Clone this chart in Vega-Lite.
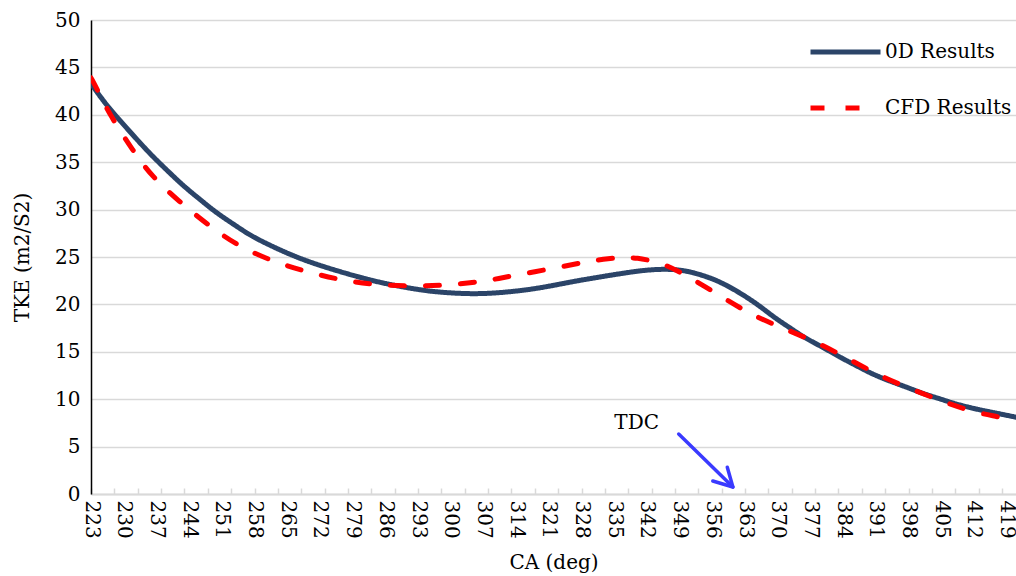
{
  "$schema": "https://vega.github.io/schema/vega-lite/v6.json",
  "width": 925,
  "height": 474,
  "autosize": "none",
  "padding": {"left": 91, "top": 20, "right": 0, "bottom": 82},
  "background": "white",
  "config": {
    "view": {"stroke": null},
    "font": "DejaVu Serif",
    "axis": {"labelFont": "DejaVu Serif", "titleFont": "DejaVu Serif", "labelColor": "#000000", "titleColor": "#000000", "labelFontSize": 20, "titleFontSize": 20, "titleFontWeight": "normal"},
    "legend": {"labelFont": "DejaVu Serif", "labelFontSize": 20, "labelColor": "#000000"}
  },
  "datasets": {
    "tke": [
      {"ca": 223, "tke": 43.3, "series": "0D Results"},
      {"ca": 226, "tke": 41.2, "series": "0D Results"},
      {"ca": 229, "tke": 39.5, "series": "0D Results"},
      {"ca": 233, "tke": 37.3, "series": "0D Results"},
      {"ca": 236, "tke": 35.7, "series": "0D Results"},
      {"ca": 240, "tke": 33.8, "series": "0D Results"},
      {"ca": 243, "tke": 32.4, "series": "0D Results"},
      {"ca": 247, "tke": 30.8, "series": "0D Results"},
      {"ca": 250, "tke": 29.6, "series": "0D Results"},
      {"ca": 254, "tke": 28.3, "series": "0D Results"},
      {"ca": 257, "tke": 27.3, "series": "0D Results"},
      {"ca": 261, "tke": 26.3, "series": "0D Results"},
      {"ca": 265, "tke": 25.4, "series": "0D Results"},
      {"ca": 268, "tke": 24.8, "series": "0D Results"},
      {"ca": 272, "tke": 24.1, "series": "0D Results"},
      {"ca": 278, "tke": 23.2, "series": "0D Results"},
      {"ca": 284, "tke": 22.4, "series": "0D Results"},
      {"ca": 289, "tke": 21.9, "series": "0D Results"},
      {"ca": 295, "tke": 21.4, "series": "0D Results"},
      {"ca": 300, "tke": 21.2, "series": "0D Results"},
      {"ca": 305, "tke": 21.1, "series": "0D Results"},
      {"ca": 310, "tke": 21.2, "series": "0D Results"},
      {"ca": 316, "tke": 21.5, "series": "0D Results"},
      {"ca": 321, "tke": 21.9, "series": "0D Results"},
      {"ca": 326, "tke": 22.4, "series": "0D Results"},
      {"ca": 332, "tke": 22.9, "series": "0D Results"},
      {"ca": 337, "tke": 23.3, "series": "0D Results"},
      {"ca": 342, "tke": 23.65, "series": "0D Results"},
      {"ca": 347, "tke": 23.75, "series": "0D Results"},
      {"ca": 351, "tke": 23.5, "series": "0D Results"},
      {"ca": 355, "tke": 22.9, "series": "0D Results"},
      {"ca": 358, "tke": 22.3, "series": "0D Results"},
      {"ca": 362, "tke": 21.2, "series": "0D Results"},
      {"ca": 366, "tke": 19.9, "series": "0D Results"},
      {"ca": 369, "tke": 18.7, "series": "0D Results"},
      {"ca": 373, "tke": 17.4, "series": "0D Results"},
      {"ca": 376, "tke": 16.4, "series": "0D Results"},
      {"ca": 380, "tke": 15.4, "series": "0D Results"},
      {"ca": 383, "tke": 14.5, "series": "0D Results"},
      {"ca": 387, "tke": 13.5, "series": "0D Results"},
      {"ca": 390, "tke": 12.7, "series": "0D Results"},
      {"ca": 394, "tke": 11.9, "series": "0D Results"},
      {"ca": 398, "tke": 11.2, "series": "0D Results"},
      {"ca": 401, "tke": 10.6, "series": "0D Results"},
      {"ca": 405, "tke": 10.0, "series": "0D Results"},
      {"ca": 408, "tke": 9.5, "series": "0D Results"},
      {"ca": 412, "tke": 9.0, "series": "0D Results"},
      {"ca": 416, "tke": 8.6, "series": "0D Results"},
      {"ca": 421, "tke": 8.1, "series": "0D Results"},
      {"ca": 223, "tke": 43.9, "series": "CFD Results"},
      {"ca": 224, "tke": 43.0, "series": "CFD Results"},
      {"ca": 227, "tke": 40.0, "series": "CFD Results"},
      {"ca": 232, "tke": 36.2, "series": "CFD Results"},
      {"ca": 236, "tke": 33.5, "series": "CFD Results"},
      {"ca": 242, "tke": 30.8, "series": "CFD Results"},
      {"ca": 248, "tke": 28.4, "series": "CFD Results"},
      {"ca": 254, "tke": 26.3, "series": "CFD Results"},
      {"ca": 261, "tke": 24.7, "series": "CFD Results"},
      {"ca": 268, "tke": 23.6, "series": "CFD Results"},
      {"ca": 276, "tke": 22.6, "series": "CFD Results"},
      {"ca": 283, "tke": 22.1, "series": "CFD Results"},
      {"ca": 291, "tke": 21.9, "series": "CFD Results"},
      {"ca": 299, "tke": 22.0, "series": "CFD Results"},
      {"ca": 307, "tke": 22.4, "series": "CFD Results"},
      {"ca": 314, "tke": 23.1, "series": "CFD Results"},
      {"ca": 322, "tke": 23.8, "series": "CFD Results"},
      {"ca": 329, "tke": 24.5, "series": "CFD Results"},
      {"ca": 334, "tke": 24.85, "series": "CFD Results"},
      {"ca": 337, "tke": 24.95, "series": "CFD Results"},
      {"ca": 340, "tke": 24.9, "series": "CFD Results"},
      {"ca": 343, "tke": 24.6, "series": "CFD Results"},
      {"ca": 346, "tke": 24.2, "series": "CFD Results"},
      {"ca": 351, "tke": 22.9, "series": "CFD Results"},
      {"ca": 358, "tke": 20.8, "series": "CFD Results"},
      {"ca": 364, "tke": 19.0, "series": "CFD Results"},
      {"ca": 371, "tke": 17.5, "series": "CFD Results"},
      {"ca": 378, "tke": 16.1, "series": "CFD Results"},
      {"ca": 385, "tke": 14.3, "series": "CFD Results"},
      {"ca": 392, "tke": 12.4, "series": "CFD Results"},
      {"ca": 399, "tke": 11.0, "series": "CFD Results"},
      {"ca": 406, "tke": 9.6, "series": "CFD Results"},
      {"ca": 413, "tke": 8.5, "series": "CFD Results"},
      {"ca": 418, "tke": 8.1, "series": "CFD Results"},
      {"ca": 421, "tke": 7.6, "series": "CFD Results"}
    ],
    "arrow": [
      {"ca": 348.8, "tke": 6.33, "part": "shaft", "order": 1},
      {"ca": 360.4, "tke": 0.74, "part": "shaft", "order": 2},
      {"ca": 356.1, "tke": 1.37, "part": "head", "order": 1},
      {"ca": 360.4, "tke": 0.74, "part": "head", "order": 2},
      {"ca": 359.2, "tke": 2.82, "part": "head", "order": 3}
    ],
    "notes": [
      {"ca": 339.8, "tke": 7.5, "label": "TDC"}
    ]
  },
  "resolve": {"axis": {"x": "independent"}},
  "layer": [
    {
      "data": {"name": "tke"},
      "mark": {"type": "line", "interpolate": "basis", "strokeWidth": 5, "strokeCap": "round", "clip": true},
      "encoding": {
        "x": {
          "field": "ca", "type": "quantitative",
          "scale": {"domain": [223, 421], "zero": false, "nice": false},
          "axis": {
            "orient": "bottom",
            "title": "CA (deg)",
            "values": [223, 230, 237, 244, 251, 258, 265, 272, 279, 286, 293, 300, 307, 314, 321, 328, 335, 342, 349, 356, 363, 370, 377, 384, 391, 398, 405, 412, 419],
            "labelAngle": 90,
            "labelPadding": 6,
            "labelFlush": false,
            "labelOverlap": false,
            "ticks": false,
            "grid": false,
            "domainColor": "#d9d9d9",
            "domainWidth": 2,
            "titlePadding": 14
          }
        },
        "y": {
          "field": "tke", "type": "quantitative",
          "scale": {"domain": [0, 50], "nice": false},
          "axis": {
            "title": "TKE (m2/S2)",
            "values": [0, 5, 10, 15, 20, 25, 30, 35, 40, 45, 50],
            "ticks": false,
            "labelPadding": 11,
            "domainColor": "#000000",
            "domainWidth": 1.5,
            "gridColor": "#d9d9d9",
            "gridWidth": 1.5,
            "titlePadding": 22
          }
        },
        "color": {
          "field": "series", "type": "nominal",
          "scale": {"domain": ["0D Results", "CFD Results"], "range": ["#2B4468", "#FF0000"]},
          "legend": {
            "title": null,
            "orient": "none",
            "legendX": 717,
            "legendY": 4,
            "symbolType": "stroke",
            "symbolSize": 4900,
            "symbolStrokeWidth": 5,
            "clipHeight": 56,
            "rowPadding": 0,
            "labelOffset": 2,
            "padding": 0
          }
        },
        "strokeDash": {
          "field": "series", "type": "nominal",
          "scale": {"domain": ["0D Results", "CFD Results"], "range": [[1, 0], [14, 21]]},
          "legend": {
            "title": null,
            "orient": "none",
            "legendX": 717,
            "legendY": 4,
            "symbolType": "stroke",
            "symbolSize": 4900,
            "symbolStrokeWidth": 5,
            "clipHeight": 56,
            "rowPadding": 0,
            "labelOffset": 2,
            "padding": 0
          }
        }
      }
    },
    {
      "mark": {"type": "rule", "color": "#000000", "strokeWidth": 1.5},
      "encoding": {"y": {"datum": 50}}
    },
    {
      "data": {"name": "arrow"},
      "mark": {"type": "line", "color": "#3a3aff", "strokeWidth": 3.5, "strokeCap": "round", "strokeJoin": "round"},
      "encoding": {
        "x": {
          "field": "ca", "type": "quantitative",
          "axis": {
            "orient": "bottom",
            "title": null,
            "values": [223, 228, 233, 238, 243, 248, 253, 258, 263, 268, 273, 278, 283, 288, 293, 298, 303, 308, 313, 318, 323, 328, 333, 338, 343, 348, 353, 358, 363, 368, 373, 378, 383, 388, 393, 398, 403, 408, 413, 418],
            "labels": false,
            "domain": false,
            "grid": false,
            "ticks": true,
            "tickSize": -6,
            "tickColor": "#d9d9d9",
            "tickWidth": 1.5
          }
        },
        "y": {"field": "tke", "type": "quantitative"},
        "detail": {"field": "part"},
        "order": {"field": "order"}
      }
    },
    {
      "data": {"name": "notes"},
      "mark": {"type": "text", "fontSize": 20, "font": "DejaVu Serif", "color": "#000000", "align": "center", "baseline": "middle"},
      "encoding": {
        "x": {"field": "ca", "type": "quantitative", "axis": null},
        "y": {"field": "tke", "type": "quantitative"},
        "text": {"field": "label"}
      }
    }
  ]
}
